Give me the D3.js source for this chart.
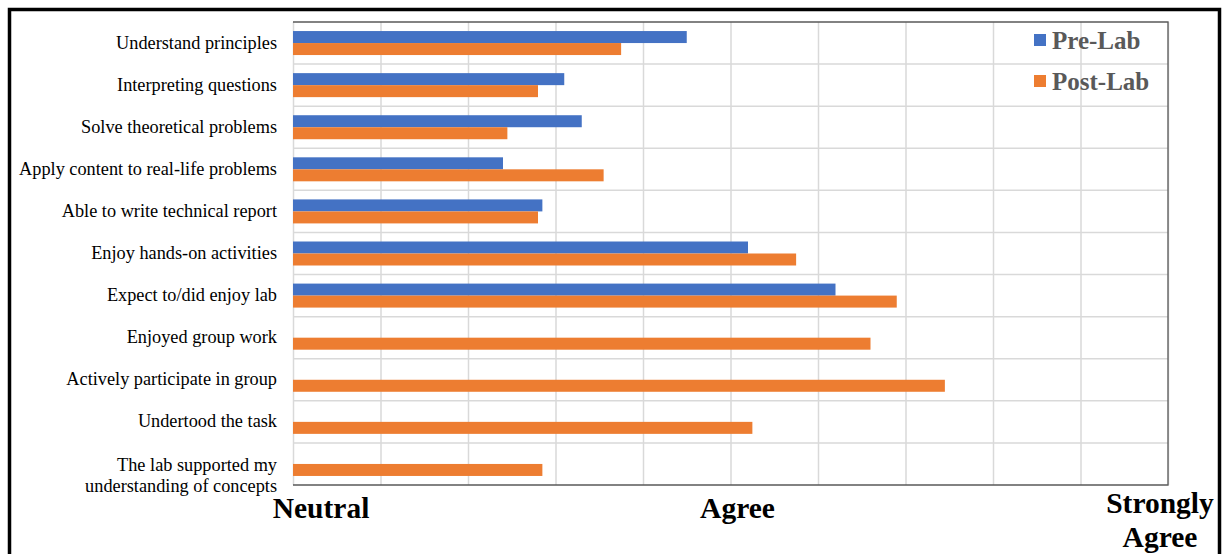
<!DOCTYPE html>
<html>
<head>
<meta charset="utf-8">
<script src="https://cdn.jsdelivr.net/npm/d3@7"></script>
<style>
  body { margin: 0; background: #fff; }
  svg { display: block; }
</style>
</head>
<body>
<svg id="chart"></svg>
<script>
let categories = [
    "Understand principles",
    "Interpreting questions",
    "Solve theoretical problems",
    "Apply content to real-life problems",
    "Able to write technical report",
    "Enjoy hands-on activities",
    "Expect to/did enjoy lab",
    "Enjoyed group work",
    "Actively participate in group",
    "Undertood the task",
    "The lab supported my understanding of concepts"
]
let preLab = [3.90, 3.62, 3.66, 3.48, 3.57, 4.04, 4.24, null, null, null, null]
let postLab = [3.75, 3.56, 3.49, 3.71, 3.56, 4.15, 4.38, 4.32, 4.49, 4.05, 3.57]
let seriesNames = ["Pre-Lab", "Post-Lab"]
let seriesColors = ["#4472C4", "#ED7D31"]
let axisLabels = [
    {value: 3, lines: ["Neutral"]},
    {value: 4, lines: ["Agree"]},
    {value: 5, lines: ["Strongly", "Agree"]}
]

const width = 1225
const height = 554
const plot = {left: 293, right: 1168, top: 22, bottom: 485}
const serif = '"Liberation Serif", "Times New Roman", serif'

let svg = d3.select('#chart')
    .attr('width', width)
    .attr('height', height)

// outer frame
svg.append('rect')
    .attr('x', 9.5)
    .attr('y', 9.5)
    .attr('width', 1210)
    .attr('height', 600)
    .attr('fill', 'none')
    .attr('stroke', 'black')
    .attr('stroke-width', 3.5)

let x = d3.scaleLinear()
    .domain([3, 5])
    .range([plot.left, plot.right])

let y = d3.scaleBand()
    .domain(categories)
    .range([plot.top, plot.bottom])

let bw = y.bandwidth()
let ySub = d3.scaleBand()
    .domain(seriesNames)
    .range([bw / 2 - 12, bw / 2 + 12])

// vertical gridlines
svg.append('g')
    .attr('transform', `translate(0 ${plot.bottom})`)
    .call(d3.axisBottom(x).tickValues(d3.range(3, 5.001, 0.2)).tickSize(-(plot.bottom - plot.top)).tickFormat(''))
    .call(g => g.select('.domain').remove())
    .call(g => g.selectAll('line').attr('stroke', '#d9d9d9').attr('stroke-width', 1.5))

// horizontal gridlines between rows
svg.append('g')
    .selectAll('line')
    .data(categories.slice(1))
    .enter()
    .append('line')
    .attr('x1', plot.left)
    .attr('x2', plot.right)
    .attr('y1', d => y(d))
    .attr('y2', d => y(d))
    .attr('stroke', '#d9d9d9')
    .attr('stroke-width', 1.5)

// plot frame: top, right, bottom
svg.append('path')
    .attr('d', `M${plot.left},${plot.top}H${plot.right}V${plot.bottom}H${plot.left}`)
    .attr('fill', 'none')
    .attr('stroke', '#595959')
    .attr('stroke-width', 1.3)

let rows = categories.map((c, i) => ({name: c, values: [preLab[i], postLab[i]]}))

let groups = svg.selectAll('g.row')
    .data(rows)
    .enter()
    .append('g')
    .attr('class', 'row')
    .attr('transform', d => `translate(0 ${y(d.name)})`)

groups.selectAll('rect')
    .data(d => d.values.map((v, j) => ({series: seriesNames[j], value: v, color: seriesColors[j]})).filter(d => d.value != null))
    .enter()
    .append('rect')
    .attr('x', x(3))
    .attr('y', d => ySub(d.series))
    .attr('width', d => x(d.value) - x(3))
    .attr('height', ySub.bandwidth())
    .attr('fill', d => d.color)

// category labels
groups.append('text')
    .attr('x', 277)
    .attr('text-anchor', 'end')
    .attr('font-family', serif)
    .attr('font-size', 18.3)
    .attr('fill', '#000')
    .each(function(d, i) {
        let t = d3.select(this)
        if (i == categories.length - 1) {
            t.append('tspan').attr('x', 277).attr('y', bw / 2 + 7).text('The lab supported my')
            t.append('tspan').attr('x', 277).attr('y', bw / 2 + 28).text('understanding of concepts')
        } else {
            t.attr('y', bw / 2 + 5.5).text(d.name)
        }
    })

// axis labels
let al = svg.selectAll('text.axis-label')
    .data(axisLabels)
    .enter()
    .append('text')
    .attr('class', 'axis-label')
    .attr('font-family', serif)
    .attr('font-weight', 'bold')
    .attr('font-size', 29.5)
    .attr('text-anchor', 'middle')

al.each(function(d) {
    let t = d3.select(this)
    let cx = d.value == 3 ? x(d.value) + 28 : d.value == 5 ? x(d.value) - 8 : x(d.value) + 7
    let y0 = d.lines.length > 1 ? 513 : 518
    d.lines.forEach((line, k) => {
        t.append('tspan').attr('x', cx).attr('y', y0 + k * 34).text(line)
    })
})

// legend
let legend = svg.selectAll('g.legend')
    .data(seriesNames)
    .enter()
    .append('g')
    .attr('class', 'legend')
    .attr('transform', (d, i) => `translate(1034 ${40 + i * 41})`)

legend.append('rect')
    .attr('x', 0)
    .attr('y', -6)
    .attr('width', 12)
    .attr('height', 12)
    .attr('fill', (d, i) => seriesColors[i])

legend.append('text')
    .attr('x', 18)
    .attr('y', 8.5)
    .attr('font-family', serif)
    .attr('font-weight', 'bold')
    .attr('font-size', 25)
    .attr('fill', '#595959')
    .text(d => d)
</script>
</body>
</html>
